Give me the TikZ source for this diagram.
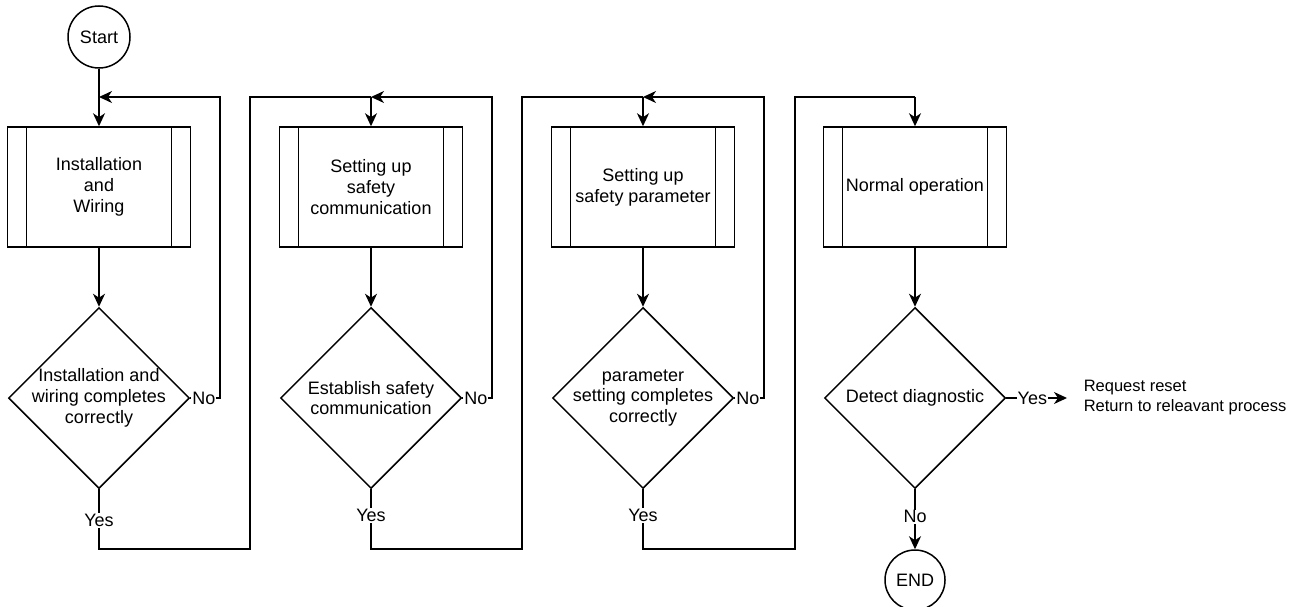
\documentclass[tikz,border=0pt]{standalone}
\usepackage{fontspec}
\setmainfont{Liberation Sans}
\usetikzlibrary{shapes.geometric,arrows.meta}

\begin{document}
\begin{tikzpicture}[x=1pt,y=-1pt,line width=1.5pt,
    every node/.style={font=\fontsize{18}{20.7}\selectfont},
    term/.style={circle,draw,minimum size=62pt,inner sep=0pt},
    procbox/.style={draw,rectangle,minimum width=183pt,minimum height=120pt,align=center,
        path picture={
            \draw ([xshift=19pt]path picture bounding box.north west) -- ([xshift=19pt]path picture bounding box.south west);
            \draw ([xshift=-19pt]path picture bounding box.north east) -- ([xshift=-19pt]path picture bounding box.south east);}},
    decision/.style={diamond,draw,minimum width=181pt,minimum height=181pt,inner sep=0pt},
    lbl/.style={fill=white,inner sep=1pt},
    arr/.style={-{Stealth[length=13pt,width=12pt,inset=4pt]}}]
    \useasboundingbox (0,0) rectangle (1300,607);

    % steps
    \node[term] (start) at (99,37) {Start};
    \node[procbox] (inst) at (99,187) {Installation\\and\\Wiring};
    \node[decision,label={[align=center]center:Installation and\\wiring completes\\correctly}] (instok) at (99,398) {};

    \node[procbox] (comm) at (371,187) {Setting up\\safety\\communication};
    \node[decision,label={[align=center]center:Establish safety\\communication}] (commok) at (371,398) {};

    \node[procbox] (param) at (643,187) {Setting up\\safety parameter};
    \node[decision,label={[align=center]center:parameter\\setting completes\\correctly}] (paramok) at (643,398) {};

    \node[procbox] (normal) at (915,187) {Normal operation};
    \node[decision,label={[align=center]center:Detect diagnostic}] (diag) at (915,398) {};
    \node[anchor=west,align=left,inner xsep=16pt,font=\fontsize{16.5}{20}\selectfont] (reset) at (1067,398) {Request reset\\Return to releavant process};
    \node[term,minimum size=60pt] (end) at (915,580) {END};

    % junctions and corners
    \coordinate (in1) at (99,97);
    \coordinate (in2) at (371,97);
    \coordinate (in3) at (643,97);
    \coordinate (in4) at (915,97);
    \coordinate (no1) at (220,97);
    \coordinate (no2) at (492,97);
    \coordinate (no3) at (764,97);
    \coordinate (yes1) at (250,549);
    \coordinate (yes2) at (522,549);
    \coordinate (yes3) at (795,549);
    \coordinate (up1) at (250,97);
    \coordinate (up2) at (522,97);
    \coordinate (up3) at (795,97);

    % flow
    \draw[arr] (start) -- (inst);
    \draw[arr] (inst) -- (instok);
    \draw[arr] (instok.east) -| node[lbl,pos=0.23]{No} (no1) -- (in1);
    \draw (instok.south) |- node[lbl,pos=0.26]{Yes} (yes1) -- (up1) -- (in2);

    \draw[arr] (in2) -- (comm);
    \draw[arr] (comm) -- (commok);
    \draw[arr] (commok.east) -| node[lbl,pos=0.23]{No} (no2) -- (in2);
    \draw (commok.south) |- node[lbl,pos=0.22]{Yes} (yes2) -- (up2) -- (in3);

    \draw[arr] (in3) -- (param);
    \draw[arr] (param) -- (paramok);
    \draw[arr] (paramok.east) -| node[lbl,pos=0.23]{No} (no3) -- (in3);
    \draw (paramok.south) |- node[lbl,pos=0.22]{Yes} (yes3) -- (up3) -- (in4);

    \draw[arr] (in4) -- (normal);
    \draw[arr] (normal) -- (diag);
    \draw[arr] (diag.east) -- node[lbl,pos=0.43]{Yes} (reset.west);
    \draw[arr] (diag.south) -- node[lbl,pos=0.46]{No} (end);
\end{tikzpicture}
\end{document}
